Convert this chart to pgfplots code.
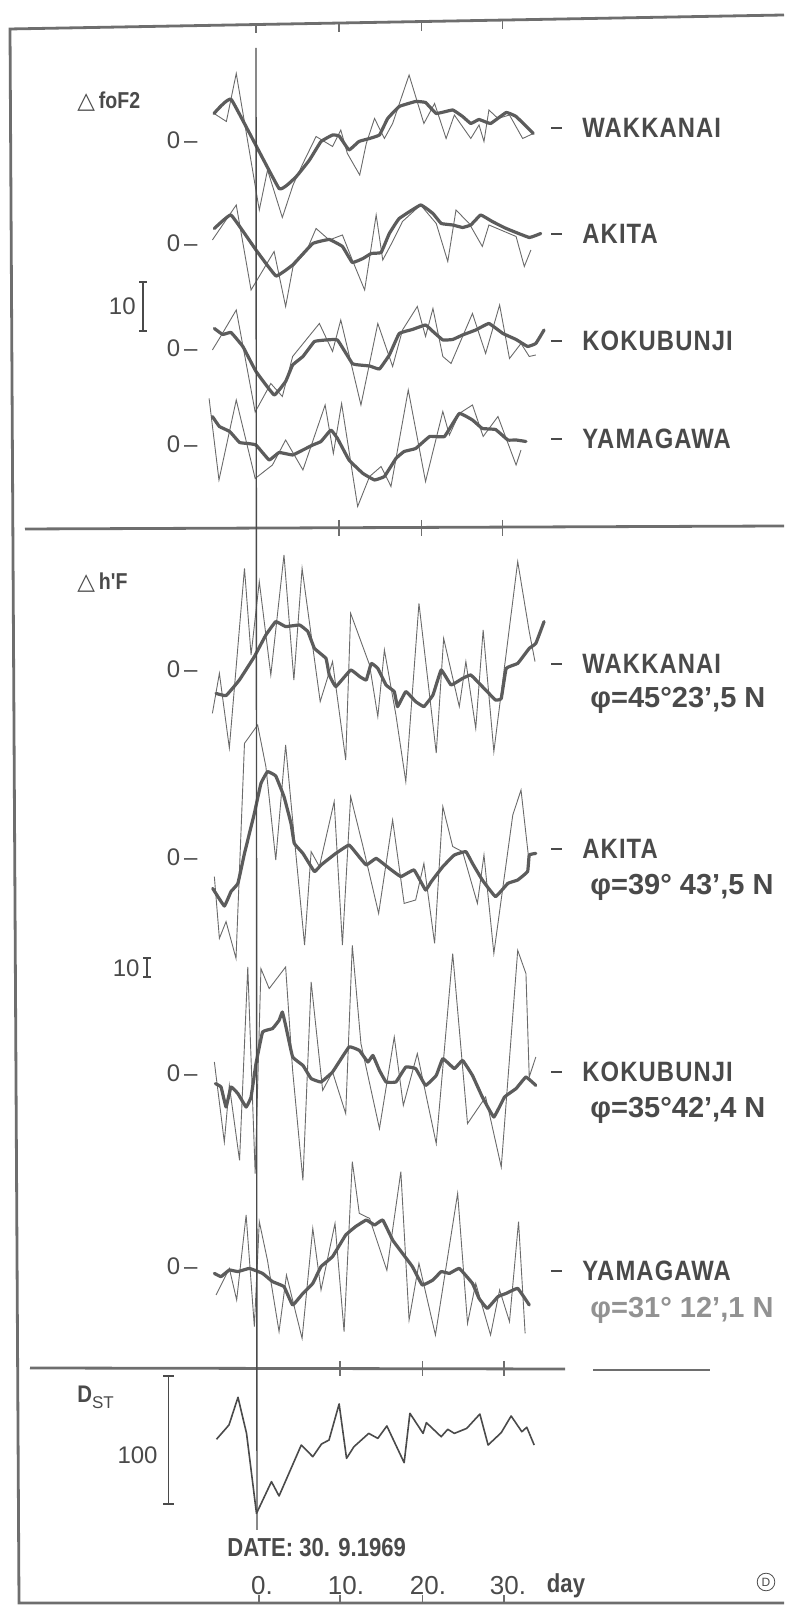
\documentclass[border=0pt]{standalone}
\usepackage{pgfplots}
\pgfplotsset{compat=1.18}
\usepackage{fontspec}
\setmainfont{Liberation Sans}
\newfontfamily\spaced[LetterSpace=4,FakeStretch=0.85]{Liberation Sans}
\newfontfamily\narrow[FakeStretch=0.85]{Liberation Sans}
\newfontfamily\dejavu{DejaVu Sans}
\definecolor{ink}{HTML}{4A4A4A}
\definecolor{thickc}{HTML}{5C5C5C}
\definecolor{thinc}{HTML}{6A6A6A}
\definecolor{framec}{HTML}{6E6E6E}
\pgfplotsset{
  thickL/.style={draw=thickc, line width=1.6pt, line join=round, line cap=round, no markers, smooth, tension=0.15},
  thinL/.style={draw=thinc, line width=0.45pt, line join=miter, no markers},
  dstL/.style={draw=ink, line width=0.8pt, line join=round, no markers},
}
\begin{document}
\begin{tikzpicture}
\useasboundingbox (0,0) rectangle (392pt,803pt);
\begin{axis}[at={(0,0)}, anchor=south west, scale only axis, width=392pt, height=803pt,
  xmin=-31.106, xmax=64.156, ymin=-1606, ymax=0, hide axis, clip=false]
% ===================== Delta foF2 =====================
% WAKKANAI
\addplot[thinL] table[x index=0,y expr=-140+5*\thisrowno{1},row sep=\\]{
-5.1 5.3\\ -3.6 3.7\\ -2.4 13.3\\ 0.4 -14\\ 1.4 -6\\ 3.2 -15.5\\ 4.5 -9\\ 5.7 -4.7\\ 7.3 0.7\\ 9.3 -1.3\\ 10.3 2\\ 11.1 -2.7\\ 12.6 -7\\ 13.4 -0.7\\ 14.4 4.3\\ 15.6 0.3\\ 16.6 3.3\\ 18.6 13\\ 20.4 3.3\\ 21.7 7.3\\ 23.1 0.3\\ 24.1 5\\ 26.1 0.3\\ 27.1 3\\ 27.7 -0.3\\ 28.3 6\\ 29.4 4.3\\ 30.8 5\\ 32.4 0.3\\ 33.7 1.3\\
};
\addplot[thickL] table[x index=0,y expr=-140+5*\thisrowno{1},row sep=\\]{
-5.1 5.3\\ -3.0 8.1\\ 2.8 -9.7\\ 4.9 -7.3\\ 6.5 -4\\ 7.9 -0.3\\ 9.3 1.0\\ 10.1 0.8\\ 11.3 -2\\ 12.5 -0.3\\ 13.8 0.3\\ 15.0 1.0\\ 16.0 4.3\\ 17.4 6.7\\ 19.4 7.7\\ 20.6 7.5\\ 21.9 5.3\\ 23.9 6.0\\ 25.1 4.7\\ 26.1 3.3\\ 27.1 4.1\\ 28.5 3.3\\ 30.4 5.5\\ 31.6 4.7\\ 33.7 1.3\\
};
% AKITA
\addplot[thinL] table[x index=0,y expr=-243+5*\thisrowno{1},row sep=\\]{
-5.3 0.6\\ -2.4 7.6\\ -0.6 -9.4\\ 2.2 -1.7\\ 3.6 -12.7\\ 4.5 -4.7\\ 6.1 -1.7\\ 7.3 2.9\\ 8.9 0.6\\ 10.5 1.6\\ 11.7 -3.4\\ 13.2 -9.4\\ 14.6 5.6\\ 15.4 -3.4\\ 16.6 0.3\\ 17.8 4.3\\ 20.0 7.6\\ 21.9 3.9\\ 23.3 -3.7\\ 24.3 6.6\\ 25.9 3.9\\ 27.5 -0.7\\ 28.3 3.6\\ 31.6 1.3\\ 32.6 -4.7\\ 33.4 -1.4\\
};
\addplot[thickL] table[x index=0,y expr=-243+5*\thisrowno{1},row sep=\\]{
-5.06 2.9\\ -3.04 5.6\\ 0 -1.4\\ 2.43 -6.6\\ 4.45 -4.4\\ 6.9 -0.1\\ 8.9 0.7\\ 10.5 -0.7\\ 11.7 -3.9\\ 13.0 -3.1\\ 14.0 -2.1\\ 15.2 -1.9\\ 16.2 1.9\\ 17.4 4.9\\ 20.0 7.6\\ 21.5 5.9\\ 22.5 3.9\\ 23.9 3.6\\ 25.1 3.1\\ 26.1 3.6\\ 27.3 5.6\\ 28.7 4.3\\ 30.4 2.9\\ 33.2 1.1\\ 34.6 1.9\\
};
% KOKUBUNJI
\addplot[thinL] table[x index=0,y expr=-348+5*\thisrowno{1},row sep=\\]{
-5.3 -0.4\\ -4.3 2.3\\ -2.4 7.6\\ -0.1 -12.8\\ 1.8 -7.1\\ 3.2 -9.7\\ 4.45 -1.7\\ 7.7 4.9\\ 9.3 -0.7\\ 10.3 5.6\\ 11.5 -2.7\\ 12.75 -11.4\\ 14.8 4.9\\ 16.6 -3.7\\ 17.8 3.6\\ 19.6 8.3\\ 20.6 2.3\\ 21.5 7.9\\ 22.7 -1.7\\ 23.7 -3.1\\ 25.1 2.3\\ 26.3 6.9\\ 27.9 -1.1\\ 29.6 8.6\\ 30.8 -2.1\\ 32.2 0.9\\ 33.2 -1.7\\ 34.0 -1.4\\
};
\addplot[thickL] table[x index=0,y expr=-348+5*\thisrowno{1},row sep=\\]{
-5.06 3.9\\ -4.05 2.7\\ -3.04 3.1\\ -1.6 0.3\\ 0 -4.7\\ 2.2 -9.4\\ 3.6 -6.7\\ 4.45 -3.4\\ 5.7 -1.7\\ 7.1 1.3\\ 8.5 1.6\\ 9.9 1.6\\ 11.7 -3.1\\ 12.55 -3.4\\ 13.8 -3.6\\ 15.0 -4.2\\ 16.2 -1.4\\ 17.4 2.9\\ 19.0 3.7\\ 20.6 4.6\\ 21.5 3.3\\ 22.7 1.6\\ 23.9 1.7\\ 25.1 2.6\\ 26.7 3.6\\ 28.3 4.9\\ 30.0 2.9\\ 31.6 1.7\\ 33.0 0.3\\ 34.0 0.9\\ 35.0 3.6\\
};
% YAMAGAWA
\addplot[thinL] table[x index=0,y expr=-444+5*\thisrowno{1},row sep=\\]{
-5.7 9.1\\ -4.5 -7.2\\ -2.4 8.8\\ -0.1 -6.9\\ 2.0 -4.2\\ 3.6 0.8\\ 5.7 -5.2\\ 8.4 7.8\\ 9.4 -1.9\\ 10.4 8.1\\ 12.35 -12.5\\ 13.8 -6.5\\ 15.2 -4.5\\ 16.4 -8.5\\ 18.5 10.8\\ 20.6 -7.5\\ 22.7 6.5\\ 23.5 1.8\\ 24.7 6.1\\ 26.3 7.8\\ 27.6 1.5\\ 29.4 5.5\\ 31.6 -4.2\\ 32.2 -1.2\\
};
\addplot[thickL] table[x index=0,y expr=-444+5*\thisrowno{1},row sep=\\]{
-5.3 5.5\\ -4.45 3.5\\ -3.2 2.5\\ -2.0 0.3\\ -1.0 0.1\\ 0 -0.2\\ 1.6 -3.2\\ 2.8 -1.7\\ 4.45 -2.2\\ 5.7 -1.2\\ 6.9 -0.2\\ 7.9 0.5\\ 9.1 2.8\\ 9.9 1.1\\ 11.3 -3.2\\ 13.0 -5.9\\ 14.4 -7.2\\ 15.6 -6.5\\ 17.0 -2.9\\ 18.0 -1.5\\ 19.4 -0.9\\ 21.1 1.5\\ 22.9 1.5\\ 24.7 6.1\\ 26.3 4.8\\ 27.5 3.1\\ 29.1 2.9\\ 30.6 0.8\\ 31.6 0.8\\ 32.8 0.5\\
};
% ===================== Delta h'F =====================
% WAKKANAI
\addplot[thinL] table[x index=0,y expr=-669+2*\thisrowno{1},row sep=\\]{
-5.3 -22.2\\ -4.45 -2.2\\ -3.24 -39.5\\ -1.4 50.3\\ -0.6 7\\ 0.4 43.7\\ 1.8 -3\\ 3.4 57\\ 4.6 -5.5\\ 5.6 50.3\\ 7.8 -16.3\\ 9.3 3.7\\ 10.9 -45.5\\ 11.5 27.8\\ 13.8 2\\ 14.8 -23.8\\ 15.6 9.5\\ 17.0 -23\\ 18.2 -56.3\\ 19.8 32.8\\ 21.9 -42\\ 22.8 15.3\\ 24.7 -18.8\\ 25.5 3.7\\ 26.7 -29.7\\ 27.6 19.5\\ 28.9 -41.3\\ 31.8 53.7\\ 33.2 18.7\\ 33.9 3.7\\
};
\addplot[thickL] table[x index=0,y expr=-669+2*\thisrowno{1},row sep=\\]{
-4.86 -12.2\\ -3.64 -13.3\\ -2.02 -5.5\\ -0.2 6.2\\ 1.2 17\\ 2.4 23.7\\ 3.6 21.2\\ 5.3 22\\ 6.3 18.7\\ 7.1 10.3\\ 8.5 5.3\\ 8.9 -3\\ 9.7 -8.8\\ 11.5 -0.5\\ 12.6 -3.8\\ 13.4 -5.5\\ 14.0 2.8\\ 14.8 0.3\\ 15.8 -8\\ 16.8 -11.3\\ 17.2 -18.8\\ 18.2 -11.3\\ 19.4 -16.3\\ 20.4 -18.8\\ 21.5 -13\\ 22.5 -0.5\\ 23.7 -8\\ 25.1 -4.7\\ 26.1 -3\\ 27.5 -8.8\\ 29.1 -15.5\\ 29.8 -14.7\\ 30.4 0.3\\ 31.8 2.8\\ 33.2 10.3\\ 34.0 12.8\\ 35.0 23.7\\
};
% AKITA
\addplot[thinL] table[x index=0,y expr=-857+2*\thisrowno{1},row sep=\\]{
-5.06 -9.8\\ -4.45 -40.7\\ -3.64 -32.3\\ -2.43 -50.7\\ -1.4 56.8\\ 0.2 66\\ 1.2 45.2\\ 2.4 -1.5\\ 3.6 56\\ 4.45 18.5\\ 5.9 -44\\ 6.7 2.7\\ 7.7 -4.8\\ 9.5 27.7\\ 10.5 -44\\ 11.5 30.2\\ 13.0 5.2\\ 14.9 -28.2\\ 16.6 18.5\\ 18.0 -23.2\\ 19.4 -21.5\\ 20.4 -3.2\\ 21.7 -43.2\\ 22.7 25.2\\ 23.9 5.2\\ 25.1 2.7\\ 26.9 -23.2\\ 27.7 1\\ 28.9 -48.2\\ 31.2 21\\ 32.2 33.5\\ 33.2 -3.2\\
};
\addplot[thickL] table[x index=0,y expr=-857+2*\thisrowno{1},row sep=\\]{
-5.26 -15.7\\ -3.85 -24.5\\ -3.04 -17.3\\ -2.2 -13.2\\ -1.4 1.8\\ -0.2 21.8\\ 0.6 36.8\\ 1.4 42.7\\ 2.4 40.5\\ 3.4 30.2\\ 4.25 16.8\\ 4.65 6.8\\ 5.7 1.8\\ 7.1 -7.3\\ 7.9 -4\\ 9.7 1.8\\ 11.3 6\\ 12.35 1\\ 13.4 -4\\ 14.6 -0.7\\ 16.2 -5.7\\ 17.6 -9.8\\ 19.2 -6.5\\ 20.6 -16.5\\ 21.3 -12.3\\ 22.7 -4.8\\ 24.1 1\\ 25.5 2.7\\ 26.3 -3.2\\ 27.5 -11.5\\ 29.1 -19.8\\ 30.6 -13.2\\ 31.8 -11.5\\ 33.0 -7.3\\ 33.2 1\\ 34.0 1.8\\
};
% KOKUBUNJI
\addplot[thinL] table[x index=0,y expr=-1073+2*\thisrowno{1},row sep=\\]{
-5.06 5.5\\ -3.85 -34.5\\ -3.24 -6.2\\ -2.0 -43.7\\ -1.0 53\\ -0.1 -50.3\\ 0.6 52.2\\ 1.6 42.2\\ 3.6 53\\ 4.45 1.3\\ 5.7 -53.7\\ 6.7 45.5\\ 8.1 -8.7\\ 9.3 0.5\\ 10.9 -20.3\\ 11.7 63.8\\ 12.75 14.7\\ 15.0 -27.8\\ 16.8 18\\ 17.9 -16.2\\ 19.6 9.7\\ 21.9 -35.3\\ 23.9 59.7\\ 25.7 -25.3\\ 27.9 -12\\ 29.8 -47\\ 31.8 61.3\\ 32.8 49.7\\ 33.2 -2\\ 34.0 8\\
};
\addplot[thickL] table[x index=0,y expr=-1073+2*\thisrowno{1},row sep=\\]{
-4.94 -5.3\\ -4.25 -7\\ -3.64 -17\\ -3.04 -7\\ -2.2 -10.3\\ -1.2 -17\\ -0.6 -12\\ 0 4.7\\ 0.8 20.5\\ 2.0 22.2\\ 2.8 26.3\\ 3.2 30.5\\ 3.6 23.8\\ 4.45 8\\ 5.7 3.8\\ 6.7 -2.8\\ 7.9 -4.5\\ 9.3 0.5\\ 11.3 13\\ 12.55 11.3\\ 13.6 5.5\\ 14.2 8.8\\ 15.0 1.3\\ 15.8 -4.5\\ 17.0 -4.5\\ 18.2 3\\ 19.4 2.2\\ 20.6 -6.2\\ 21.9 -1.2\\ 22.7 7.2\\ 24.1 2.2\\ 25.1 6.3\\ 26.3 -1.2\\ 27.5 -12\\ 28.9 -22\\ 30.2 -12\\ 31.6 -7.8\\ 32.8 -2\\ 34.0 -6.2\\
};
% YAMAGAWA
\addplot[thinL] table[x index=0,y expr=-1266+2*\thisrowno{1},row sep=\\]{
-4.86 -14.5\\ -3.24 -1.2\\ -2.35 -17\\ -1.2 25.5\\ -0.2 -30.3\\ 0.4 22.2\\ 1.4 2.7\\ 2.8 -32.8\\ 3.7 -4.5\\ 5.6 -36.2\\ 6.9 18.8\\ 7.9 -12\\ 9.6 21.3\\ 10.7 -32.8\\ 11.7 52.2\\ 12.55 26.3\\ 13.8 23.8\\ 15.9 -2.2\\ 17.6 47.2\\ 18.6 -27\\ 19.8 1.3\\ 21.8 -34.5\\ 24.5 36.3\\ 25.7 -28.7\\ 26.7 -8.7\\ 28.5 -34.5\\ 29.6 -12\\ 30.8 -27.8\\ 31.9 22.2\\ 32.7 -33.7\\
};
\addplot[thickL] table[x index=0,y expr=-1266+2*\thisrowno{1},row sep=\\]{
-5.06 -3.7\\ -4.25 -5.3\\ -3.24 -2\\ -2.2 -2.8\\ -0.8 -1.2\\ 0.8 -3.7\\ 2.0 -7.8\\ 3.4 -10.3\\ 4.45 -19.5\\ 5.7 -13.7\\ 6.9 -8.7\\ 7.9 -0.3\\ 9.3 4.7\\ 10.9 15.5\\ 12.1 19.7\\ 13.4 23\\ 14.4 20.5\\ 15.4 23\\ 16.6 13\\ 17.8 6.3\\ 19.0 -0.3\\ 20.2 -9.5\\ 21.5 -7\\ 22.5 -2.8\\ 23.5 -3.7\\ 24.7 -1.2\\ 26.3 -8.7\\ 27.1 -16.2\\ 28.1 -21.2\\ 29.4 -15.3\\ 30.4 -13.7\\ 31.8 -11.2\\ 33.2 -19.5\\
};
% ===================== Dst =====================
\addplot[dstL] table[x index=0,y expr=-1390+1.28*\thisrowno{1},row sep=\\]{
-4.8 -38.5\\ -3.28 -27.3\\ -2.19 -5.7\\ -1.15 -33.9\\ 0.06 -96.4\\ 1.88 -71.6\\ 2.8 -82.8\\ 5.5 -43\\ 6.9 -52.1\\ 7.96 -42.2\\ 8.87 -39.1\\ 10.1 -10.9\\ 11.0 -53.4\\ 11.9 -44.3\\ 13.7 -33.9\\ 14.8 -37.8\\ 15.9 -28.1\\ 18.0 -56.8\\ 18.7 -18.2\\ 20.3 -33.9\\ 20.7 -25.5\\ 22.5 -36.5\\ 23.3 -30.7\\ 24.1 -33.9\\ 25.6 -30\\ 27.2 -18.8\\ 28.2 -43\\ 29.8 -33.3\\ 31.0 -20.3\\ 32.3 -32.6\\ 32.9 -29.1\\ 33.8 -43\\
};
\end{axis}
% ===================== frame, rules and text (image pixel coordinates) =====================
\begin{scope}[x=0.5pt, y=-0.5pt, yshift=803pt]
\draw[framec, line width=1.4pt] (784,15) -- (10,29) -- (19,1603) -- (784,1603);
\foreach \xx/\yy in {256/24.5, 339/23, 421.5/21.6, 502.5/20.1} \draw[framec, line width=0.8pt] (\xx,\yy) -- (\xx,\yy+9);
\draw[framec, line width=1.4pt] (25,529) -- (784,526);
\foreach \xx in {339, 421.5, 502.5} \draw[framec, line width=0.8pt] (\xx,520) -- (\xx,536);
\draw[framec, line width=1.4pt] (30,1368) -- (565,1369);
\draw[framec, line width=1.4pt] (593,1370) -- (710,1370);
\foreach \xx in {340, 422.5, 504} \draw[framec, line width=0.8pt] (\xx,1361) -- (\xx,1376);
\foreach \xx in {259, 340, 422.5, 504} \draw[framec, line width=0.8pt] (\xx,1603) -- (\xx,1595);
\draw[ink, line width=0.7pt] (256,48) -- (257,1530);
% left labels
\node[anchor=west, ink, inner sep=0pt] at (77,102) {\fontsize{11.5}{13}\selectfont{\dejavu △}\,{\narrow\bfseries foF2}};
\node[anchor=west, ink, inner sep=0pt] at (77,583) {\fontsize{11.5}{13}\selectfont{\dejavu △}\,{\narrow\bfseries h'F}};
\foreach \yy in {140,243,348,444,669,857,1073,1266}
  \node[anchor=east, ink, inner sep=0pt] at (198,\yy) {\fontsize{12}{13}\selectfont 0\,–};
\draw[ink, line width=0.7pt] (143,282) -- (143,331) (139,282) -- (147,282) (139,331) -- (147,331);
\node[anchor=east, ink, inner sep=0pt] at (136,306) {\fontsize{12}{13}\selectfont 10};
\draw[ink, line width=0.7pt] (147,958) -- (147,977) (143,958) -- (151,958) (143,977) -- (151,977);
\node[anchor=east, ink, inner sep=0pt] at (140,968) {\fontsize{12}{13}\selectfont 10};
\draw[ink, line width=0.7pt] (168.5,1376) -- (168.5,1504) (163,1376) -- (174,1376) (163,1504) -- (174,1504);
\node[anchor=west, ink, inner sep=0pt] at (77,1397) {\fontsize{12}{13}\selectfont{\narrow\bfseries D}\raisebox{-0.45ex}{\fontsize{8.5}{9}\selectfont ST}};
\node[anchor=east, ink, inner sep=0pt] at (158,1455) {\fontsize{12}{13}\selectfont 100};
% station labels
\foreach \yy/\nm in {128/WAKKANAI, 234/AKITA, 341/KOKUBUNJI, 439/YAMAGAWA, 664/WAKKANAI, 849/AKITA, 1072/KOKUBUNJI, 1271/YAMAGAWA}{
  \draw[ink, line width=0.7pt] (551,\yy) -- (562,\yy);
  \node[anchor=west, ink, inner sep=0pt] at (582,\yy) {\fontsize{14}{16}\selectfont\spaced\bfseries \nm};
}
\node[anchor=west, ink, inner sep=0pt] at (590,700) {\fontsize{14.5}{16}\selectfont\bfseries φ=45°23',5 N};
\node[anchor=west, ink, inner sep=0pt] at (590,887) {\fontsize{14.5}{16}\selectfont\bfseries φ=39° 43',5 N};
\node[anchor=west, ink, inner sep=0pt] at (590,1110) {\fontsize{14.5}{16}\selectfont\bfseries φ=35°42',4 N};
\node[anchor=west, ink!60, inner sep=0pt] at (590,1310) {\fontsize{14.5}{16}\selectfont\bfseries φ=31° 12',1 N};
% date and day axis
\node[anchor=west, ink, inner sep=0pt] at (227,1548) {\fontsize{13}{15}\selectfont\narrow\bfseries DATE: 30. 9.1969};
\node[ink, inner sep=0pt] at (262,1586) {\fontsize{13}{15}\selectfont 0.};
\node[ink, inner sep=0pt] at (346,1586) {\fontsize{13}{15}\selectfont 10.};
\node[ink, inner sep=0pt] at (428,1586) {\fontsize{13}{15}\selectfont 20.};
\node[ink, inner sep=0pt] at (508,1586) {\fontsize{13}{15}\selectfont 30.};
\node[ink, inner sep=0pt] at (566,1586) {\fontsize{13}{15}\selectfont\narrow\bfseries day};
\node[ink, draw=ink, circle, line width=0.4pt, inner sep=1pt] at (766,1582) {\fontsize{6}{7}\selectfont D};
\end{scope}
\end{tikzpicture}
\end{document}
